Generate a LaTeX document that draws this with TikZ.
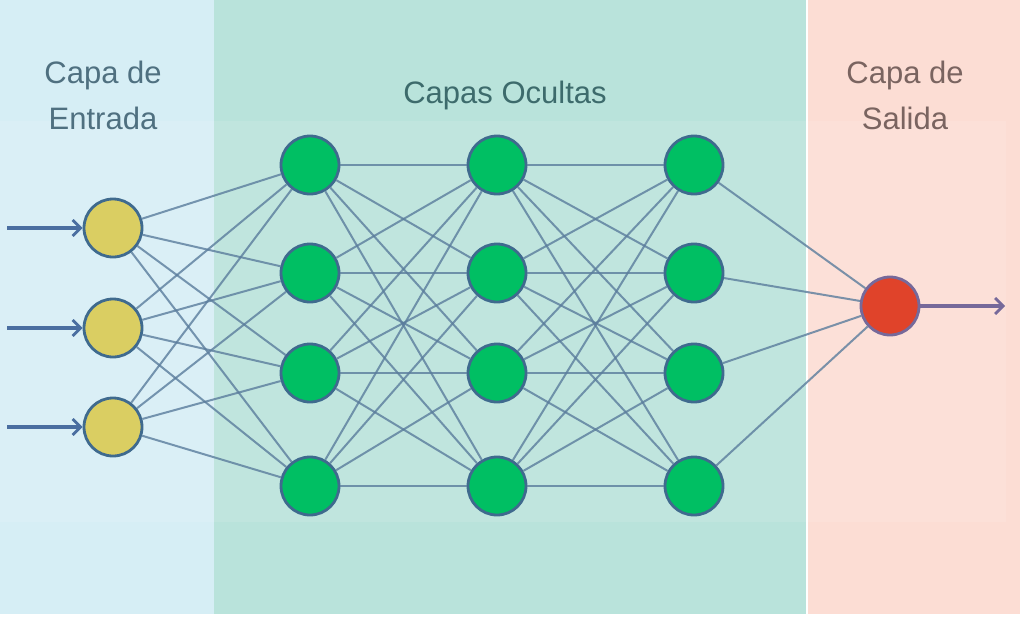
\documentclass[tikz,border=0pt]{standalone}
\usepackage{fontspec}
\setmainfont{Liberation Sans}
\usetikzlibrary{arrows.meta}
\definecolor{bgblue}{HTML}{D6EEF5}
\definecolor{bgteal}{HTML}{B9E3DB}
\definecolor{bgpink}{HTML}{FCDDD4}
\definecolor{edgec}{HTML}{5A7C9C}
\definecolor{nodeb}{HTML}{3F6A8E}
\definecolor{yel}{HTML}{DACE62}
\definecolor{grn}{HTML}{00BF63}
\definecolor{rd}{HTML}{E0432A}
\definecolor{txtblue}{HTML}{4F7080}
\definecolor{txtteal}{HTML}{3D6B6C}
\definecolor{txtpink}{HTML}{7A6460}
\definecolor{arrc}{HTML}{4A6EA0}
\definecolor{outarr}{HTML}{76699A}
\tikzset{
  neuron/.style={circle,draw=nodeb,line width=2.8pt,minimum size=58pt,inner sep=0pt},
  conn/.style={draw=edgec,line width=2pt,opacity=0.8},
  inarrow/.style={draw=arrc,line width=3.4pt,-{Straight Barb[length=8pt,width=16pt,line width=2.8pt]}},
  outarrow/.style={draw=outarr,line width=3.4pt,-{Straight Barb[length=8pt,width=16pt,line width=2.8pt]}},
  title/.style={font=\fontsize{31pt}{46pt}\selectfont,align=center}
}
\begin{document}
\begin{tikzpicture}[x=1pt,y=-1pt]
\useasboundingbox (0,0) rectangle (1023,616);
\fill[white] (0,0) rectangle (1023,616);
\fill[bgblue] (0,0) rectangle (214,614);
\fill[bgteal] (214,0) rectangle (806,614);
\fill[bgpink] (808,0) rectangle (1020,614);
\fill[white,opacity=0.1] (0,121) rectangle (1006,522);
\node[title,text=txtblue] (t1) at (103,95) {Capa de\\Entrada};
\node[title,text=txtteal] (t2) at (505,95) {Capas Ocultas};
\node[title,text=txtpink] (t3) at (905,95) {Capa de\\Salida};
% nodes
\foreach \i/\y in {1/228,2/328,3/427} \node[neuron,fill=yel] (i\i) at (113,\y) {};
\foreach \i/\y in {1/165,2/273,3/373,4/486} {
  \node[neuron,fill=grn] (a\i) at (310,\y) {};
  \node[neuron,fill=grn] (b\i) at (497,\y) {};
  \node[neuron,fill=grn] (c\i) at (694,\y) {};
}
\node[neuron,fill=rd,draw=outarr] (o) at (890,306) {};
% connections
\foreach \i in {1,2,3} \foreach \j in {1,2,3,4} \draw[conn] (i\i) -- (a\j);
\foreach \i in {1,2,3,4} \foreach \j in {1,2,3,4} {
  \draw[conn] (a\i) -- (b\j);
  \draw[conn] (b\i) -- (c\j);
}
\foreach \i in {1,2,3,4} \draw[conn] (c\i) -- (o);
% arrows
\coordinate (s1) at (7,228);
\coordinate (s2) at (7,328);
\coordinate (s3) at (7,427);
\coordinate (e) at (1005,306);
\foreach \i in {1,2,3} \draw[inarrow] (s\i) -- (i\i);
\draw[outarrow] (o) -- (e);
\end{tikzpicture}
\end{document}
